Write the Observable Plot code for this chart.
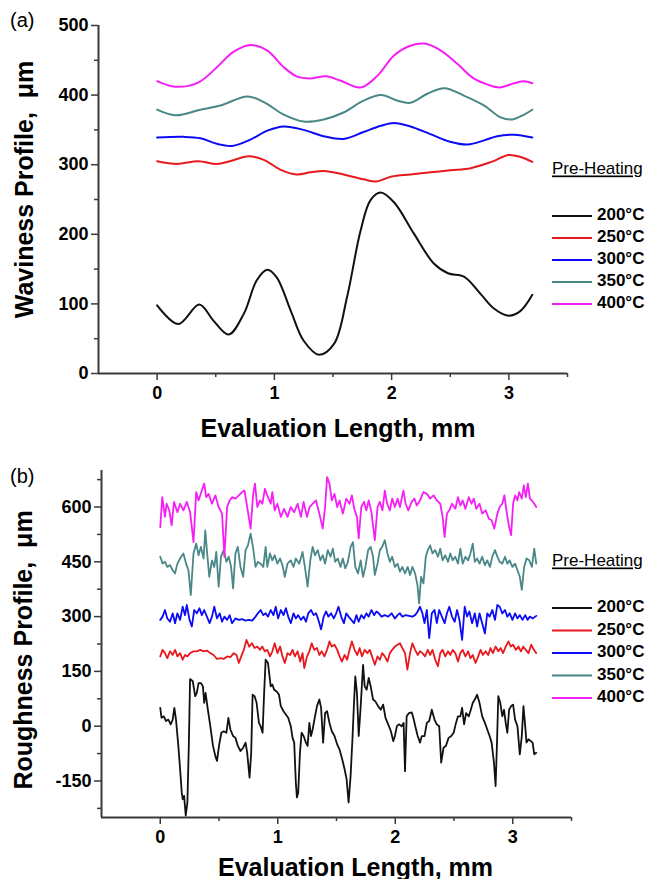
<!DOCTYPE html>
<html><head><meta charset="utf-8">
<script src="https://cdn.jsdelivr.net/npm/d3@7"></script>
<script src="https://cdn.jsdelivr.net/npm/@observablehq/plot@0.6"></script>
<style>
body{margin:0;background:#fff;}
#fig{position:relative;width:648px;height:879px;overflow:hidden;background:#fff;}
#fig svg{position:absolute;left:0;}
</style></head><body><div id="fig"></div>
<script>
// ---- categories / styling lists ----
const series = ["200°C", "250°C", "300°C", "350°C", "400°C"];
const colors = ["#111111", "#e8191c", "#0b0bf5", "#4a8787", "#f51ff5"];
const legendTitle = "Pre-Heating";
const xTitle = "Evaluation Length, mm";
const yTitleA = "Waviness Profile,  μm";
const yTitleB = "Roughness Profile,  μm";

// ---- tick values ----
const xMajor = [0, 1, 2, 3];
const xMinor = [0.5, 1.5, 2.5, 3.5];
const yMajorA = [0, 100, 200, 300, 400, 500];
const yMinorA = [50, 150, 250, 350, 450];
const yMajorB = [-150, 0, 150, 300, 450, 600];
const yMinorB = [-225, -75, 75, 225, 375, 525, 675];

// ---- (a) waviness profiles [mm, µm] ----
const wav200 = [[0,98],[0.18,71],[0.36,99],[0.48,76],[0.61,56],[0.74,86],[0.85,134],[0.94,149],[1.02,138],[1.14,90],[1.25,47],[1.38,27],[1.51,43],[1.62,110],[1.735,205],[1.82,249],[1.906,260],[2.02,246],[2.19,201],[2.36,158],[2.48,144],[2.62,139],[2.76,114],[2.875,93],[3.0,83],[3.10,90],[3.2,113]];
const wav250 = [[0,305],[0.17,301],[0.35,305],[0.51,301],[0.62,305],[0.78,312],[0.91,307],[1.05,293],[1.19,286],[1.31,289],[1.42,291],[1.59,286],[1.76,279],[1.87,276],[2.0,283],[2.16,286],[2.33,289],[2.5,292],[2.675,295],[2.85,304],[3.0,314],[3.10,311],[3.2,304]];
const wav300 = [[0,339],[0.225,340],[0.37,338],[0.51,330],[0.64,327],[0.795,336],[0.94,349],[1.08,355],[1.25,350],[1.42,341],[1.59,337],[1.76,347],[1.91,356],[2.02,360],[2.16,355],[2.33,344],[2.5,333],[2.65,329],[2.79,335],[2.9,341],[3.045,343],[3.2,339]];
const wav350 = [[0,379],[0.154,371],[0.37,379],[0.54,385],[0.77,398],[0.91,390],[1.08,372],[1.25,362],[1.42,365],[1.59,375],[1.76,392],[1.91,400],[2.05,392],[2.16,389],[2.305,402],[2.45,410],[2.62,399],[2.79,385],[2.93,368],[3.03,365],[3.13,372],[3.2,379]];
const wav400 = [[0,420],[0.154,412],[0.35,418],[0.51,440],[0.65,462],[0.795,472],[0.94,464],[1.08,440],[1.19,427],[1.31,424],[1.44,427],[1.56,421],[1.735,411],[1.88,428],[2.02,457],[2.16,471],[2.28,474],[2.42,464],[2.56,445],[2.70,424],[2.82,415],[2.92,411],[3.045,417],[3.13,420],[3.2,417]];

// ---- (b) roughness profiles [mm, µm] ----
const rough200 = [[0,50],[0.011,23],[0.031,27],[0.049,14],[0.069,18],[0.089,5],[0.106,18],[0.12,50],[0.134,18],[0.154,-54],[0.169,-118],[0.183,-182],[0.191,-200],[0.203,-191],[0.217,-245],[0.231,-209],[0.243,-54],[0.254,129],[0.277,123],[0.297,82],[0.311,91],[0.326,118],[0.346,118],[0.363,109],[0.374,64],[0.386,91],[0.403,50],[0.426,0],[0.449,-54],[0.469,-82],[0.483,-95],[0.5,-54],[0.52,-18],[0.54,-14],[0.563,-18],[0.58,23],[0.597,-9],[0.62,-27],[0.64,-32],[0.66,-54],[0.683,-68],[0.706,-59],[0.726,-45],[0.74,-73],[0.76,-141],[0.774,-73],[0.786,86],[0.803,82],[0.82,64],[0.84,9],[0.854,0],[0.871,-18],[0.883,82],[0.897,182],[0.917,173],[0.94,109],[0.954,114],[0.969,100],[0.991,95],[1.011,86],[1.026,55],[1.049,41],[1.069,32],[1.089,23],[1.111,0],[1.126,-32],[1.14,-45],[1.154,-155],[1.163,-195],[1.174,-182],[1.189,-73],[1.203,-18],[1.22,-27],[1.24,-45],[1.254,-54],[1.269,9],[1.283,-27],[1.297,-9],[1.317,27],[1.334,55],[1.354,73],[1.369,50],[1.386,-45],[1.403,36],[1.42,41],[1.44,9],[1.46,-14],[1.483,-27],[1.506,-50],[1.526,-64],[1.549,-91],[1.569,-118],[1.586,-145],[1.603,-209],[1.62,-136],[1.637,-27],[1.649,64],[1.66,136],[1.674,91],[1.689,-27],[1.706,55],[1.726,168],[1.74,109],[1.757,100],[1.774,132],[1.791,109],[1.811,73],[1.831,68],[1.854,55],[1.877,45],[1.897,59],[1.917,23],[1.94,5],[1.963,-14],[1.983,-41],[1.997,-27],[2.014,0],[2.031,5],[2.054,0],[2.071,9],[2.083,-123],[2.097,27],[2.117,36],[2.14,38],[2.154,23],[2.174,-5],[2.191,-27],[2.211,-45],[2.226,-27],[2.249,-27],[2.269,9],[2.289,14],[2.311,45],[2.334,18],[2.354,5],[2.374,0],[2.391,-100],[2.411,-59],[2.431,-54],[2.454,-32],[2.477,-27],[2.497,-18],[2.517,9],[2.534,27],[2.554,27],[2.569,50],[2.586,5],[2.603,36],[2.626,27],[2.643,45],[2.66,64],[2.677,73],[2.697,86],[2.717,64],[2.74,27],[2.763,9],[2.783,-9],[2.803,-27],[2.82,-45],[2.84,-100],[2.854,-164],[2.866,-45],[2.877,82],[2.894,64],[2.911,27],[2.926,45],[2.94,9],[2.954,-18],[2.969,45],[2.986,55],[3.003,59],[3.02,18],[3.04,0],[3.06,-77],[3.077,-27],[3.091,55],[3.106,0],[3.117,-45],[3.134,-36],[3.154,-41],[3.169,-45],[3.183,-77],[3.2,-73]];
const rough250 = [[0,191],[0.02,209],[0.04,200],[0.06,186],[0.083,205],[0.106,195],[0.126,209],[0.146,191],[0.169,200],[0.191,182],[0.211,195],[0.231,191],[0.254,200],[0.283,205],[0.311,205],[0.34,209],[0.369,205],[0.397,207],[0.426,200],[0.454,195],[0.483,184],[0.511,186],[0.54,184],[0.569,191],[0.597,189],[0.626,200],[0.649,195],[0.669,173],[0.689,191],[0.711,209],[0.734,236],[0.757,218],[0.78,227],[0.803,214],[0.826,218],[0.849,209],[0.869,218],[0.889,205],[0.911,209],[0.934,191],[0.954,205],[0.974,227],[0.997,200],[1.02,218],[1.04,191],[1.06,173],[1.083,200],[1.106,195],[1.126,209],[1.146,191],[1.169,205],[1.191,177],[1.211,200],[1.226,159],[1.249,191],[1.269,205],[1.289,227],[1.311,209],[1.334,214],[1.354,195],[1.374,205],[1.397,191],[1.42,209],[1.44,232],[1.46,218],[1.483,223],[1.506,209],[1.526,191],[1.546,177],[1.569,195],[1.591,182],[1.611,209],[1.631,232],[1.654,209],[1.677,195],[1.697,214],[1.717,191],[1.74,209],[1.763,200],[1.783,209],[1.803,191],[1.826,168],[1.849,191],[1.869,182],[1.889,200],[1.911,191],[1.934,177],[1.954,200],[1.974,209],[1.997,218],[2.02,223],[2.04,227],[2.06,214],[2.083,200],[2.103,155],[2.126,200],[2.146,227],[2.169,209],[2.191,195],[2.211,205],[2.231,200],[2.254,191],[2.277,209],[2.297,195],[2.317,209],[2.34,182],[2.363,164],[2.383,200],[2.403,209],[2.426,191],[2.449,205],[2.469,195],[2.489,209],[2.511,200],[2.534,177],[2.554,200],[2.574,209],[2.597,191],[2.62,205],[2.64,186],[2.66,195],[2.683,173],[2.706,191],[2.726,209],[2.746,195],[2.769,205],[2.791,195],[2.811,214],[2.831,200],[2.854,218],[2.877,205],[2.897,214],[2.917,200],[2.94,218],[2.963,232],[2.983,218],[3.003,223],[3.026,209],[3.049,218],[3.069,205],[3.089,218],[3.111,209],[3.134,200],[3.157,223],[3.18,209],[3.2,200]];
const rough300 = [[0,291],[0.02,300],[0.04,318],[0.06,295],[0.083,286],[0.106,309],[0.126,282],[0.146,309],[0.169,291],[0.191,327],[0.211,304],[0.226,332],[0.249,291],[0.269,273],[0.289,318],[0.311,309],[0.334,323],[0.354,304],[0.374,318],[0.397,300],[0.42,282],[0.44,300],[0.46,327],[0.483,295],[0.506,309],[0.526,286],[0.546,300],[0.569,291],[0.591,304],[0.611,282],[0.64,295],[0.669,291],[0.697,293],[0.726,289],[0.754,291],[0.783,289],[0.811,300],[0.831,309],[0.854,318],[0.877,304],[0.897,309],[0.917,300],[0.94,318],[0.963,304],[0.983,327],[1.003,295],[1.026,318],[1.049,304],[1.069,323],[1.089,300],[1.111,282],[1.134,309],[1.154,295],[1.174,304],[1.197,291],[1.22,300],[1.24,286],[1.26,309],[1.283,318],[1.306,304],[1.326,309],[1.346,291],[1.369,265],[1.391,300],[1.411,314],[1.431,300],[1.454,309],[1.477,295],[1.497,309],[1.517,327],[1.54,300],[1.563,282],[1.583,309],[1.603,300],[1.626,291],[1.649,282],[1.669,304],[1.689,286],[1.711,304],[1.734,295],[1.754,309],[1.774,300],[1.797,318],[1.82,304],[1.84,314],[1.86,309],[1.883,300],[1.911,304],[1.94,300],[1.969,309],[1.997,295],[2.02,304],[2.04,309],[2.06,300],[2.089,304],[2.117,302],[2.146,300],[2.169,304],[2.191,314],[2.211,327],[2.231,309],[2.249,282],[2.269,318],[2.289,241],[2.311,309],[2.334,318],[2.354,282],[2.374,318],[2.397,300],[2.42,282],[2.44,309],[2.46,327],[2.483,300],[2.506,286],[2.526,318],[2.546,291],[2.569,236],[2.591,327],[2.611,300],[2.631,314],[2.654,282],[2.677,309],[2.697,273],[2.717,309],[2.74,282],[2.763,254],[2.783,309],[2.803,300],[2.826,318],[2.849,291],[2.869,332],[2.889,327],[2.911,309],[2.934,318],[2.954,300],[2.974,309],[2.997,291],[3.02,309],[3.04,295],[3.06,304],[3.083,291],[3.106,304],[3.126,291],[3.146,300],[3.169,295],[3.2,302]];
const rough350 = [[0,464],[0.02,445],[0.04,450],[0.06,436],[0.083,441],[0.106,427],[0.126,418],[0.146,445],[0.169,459],[0.197,473],[0.22,445],[0.24,427],[0.26,359],[0.283,473],[0.306,500],[0.326,468],[0.346,491],[0.369,459],[0.383,536],[0.397,482],[0.417,409],[0.44,454],[0.46,436],[0.477,477],[0.497,382],[0.517,464],[0.54,482],[0.563,450],[0.583,464],[0.603,436],[0.62,377],[0.64,473],[0.66,491],[0.683,436],[0.706,409],[0.726,482],[0.746,495],[0.769,527],[0.789,491],[0.811,436],[0.831,450],[0.854,445],[0.877,436],[0.897,491],[0.911,436],[0.934,473],[0.954,454],[0.974,468],[0.997,445],[1.02,459],[1.04,441],[1.06,409],[1.083,445],[1.111,454],[1.134,436],[1.154,459],[1.183,445],[1.211,477],[1.231,436],[1.254,382],[1.277,454],[1.297,491],[1.317,468],[1.34,482],[1.363,454],[1.383,468],[1.403,445],[1.426,482],[1.449,464],[1.469,486],[1.489,450],[1.511,459],[1.534,436],[1.554,459],[1.574,432],[1.597,450],[1.62,491],[1.64,504],[1.66,436],[1.683,418],[1.706,454],[1.726,409],[1.746,436],[1.769,482],[1.791,491],[1.811,464],[1.826,414],[1.849,445],[1.869,482],[1.889,491],[1.911,509],[1.934,473],[1.954,450],[1.974,464],[1.997,436],[2.02,445],[2.04,423],[2.06,436],[2.083,418],[2.106,436],[2.126,414],[2.146,436],[2.169,418],[2.189,386],[2.203,336],[2.22,409],[2.24,391],[2.26,464],[2.277,482],[2.297,495],[2.317,473],[2.34,482],[2.363,464],[2.383,486],[2.403,454],[2.426,468],[2.449,450],[2.469,473],[2.489,454],[2.511,464],[2.534,445],[2.554,486],[2.574,445],[2.597,464],[2.62,454],[2.64,473],[2.66,500],[2.677,450],[2.697,459],[2.717,445],[2.74,464],[2.763,441],[2.783,454],[2.806,436],[2.826,464],[2.849,482],[2.869,464],[2.889,450],[2.911,445],[2.934,464],[2.954,445],[2.974,454],[2.997,436],[3.02,445],[3.04,427],[3.06,409],[3.077,373],[3.097,436],[3.117,459],[3.14,454],[3.163,436],[3.183,486],[3.2,445]];
const rough400 = [[0,545],[0.017,627],[0.04,573],[0.054,609],[0.077,591],[0.097,550],[0.117,614],[0.146,586],[0.169,609],[0.197,591],[0.226,614],[0.254,586],[0.283,504],[0.306,641],[0.326,618],[0.354,645],[0.374,664],[0.391,627],[0.411,636],[0.44,609],[0.469,632],[0.497,600],[0.526,582],[0.546,464],[0.569,600],[0.591,618],[0.611,627],[0.64,623],[0.669,632],[0.697,641],[0.717,645],[0.74,600],[0.769,541],[0.791,636],[0.806,664],[0.826,600],[0.849,618],[0.869,609],[0.891,650],[0.911,632],[0.94,609],[0.954,641],[0.974,591],[0.997,609],[1.026,573],[1.054,595],[1.083,573],[1.111,600],[1.14,586],[1.169,609],[1.197,573],[1.22,614],[1.249,573],[1.271,600],[1.297,609],[1.326,618],[1.354,582],[1.383,541],[1.403,600],[1.42,682],[1.44,664],[1.46,618],[1.483,636],[1.506,600],[1.526,618],[1.554,582],[1.583,623],[1.611,609],[1.631,632],[1.654,591],[1.674,573],[1.689,514],[1.711,600],[1.734,614],[1.754,591],[1.774,618],[1.797,586],[1.826,509],[1.849,600],[1.869,614],[1.891,591],[1.911,645],[1.931,609],[1.954,591],[1.974,623],[1.997,600],[2.02,623],[2.04,600],[2.069,645],[2.089,609],[2.111,591],[2.14,614],[2.163,623],[2.183,604],[2.211,618],[2.24,641],[2.269,636],[2.297,623],[2.326,632],[2.354,618],[2.383,609],[2.403,573],[2.42,518],[2.44,582],[2.46,591],[2.483,609],[2.511,595],[2.534,627],[2.554,604],[2.574,618],[2.597,595],[2.626,627],[2.649,609],[2.669,623],[2.689,595],[2.717,609],[2.74,582],[2.769,591],[2.797,568],[2.82,564],[2.843,541],[2.869,582],[2.889,600],[2.911,609],[2.929,632],[2.946,591],[2.969,545],[2.986,523],[3.003,609],[3.02,632],[3.04,618],[3.054,641],[3.077,623],[3.094,659],[3.111,627],[3.129,664],[3.146,623],[3.163,618],[3.183,609],[3.2,600]];

const wavData = [wav200, wav250, wav300, wav350, wav400];
const roughData = [rough200, rough250, rough300, rough350, rough400];

const toRows = (lists) => series.flatMap((s, i) => lists[i].map(([x, y]) => ({x, y, s})));

const axisColor = "#3a3a3a";
const fontFam = '"Liberation Sans", Arial, Helvetica, sans-serif';

function panel(o) {
  return Plot.plot({
    width: 648, height: o.height,
    marginTop: o.mt, marginBottom: o.mb, marginLeft: o.ml, marginRight: o.mr,
    x: {domain: [-0.5, 3.5], label: null},
    y: {domain: o.yDomain, label: null},
    color: {domain: series, range: colors},
    style: {fontFamily: fontFam, fontSize: "18px", fontWeight: "bold", color: "#000", background: "transparent", overflow: "visible"},
    marks: [
      Plot.axisY(o.yMinor, {tickSize: 4, tickFormat: () => "", label: null, stroke: axisColor, strokeWidth: 1.5}),
      Plot.axisY(o.yMajor, {tickSize: 7, tickPadding: 3, tickFormat: d => String(d), label: null, stroke: axisColor, strokeWidth: 1.5, fontSize: 18}),
      Plot.axisX(xMinor, {tickSize: 4, tickFormat: () => "", label: null, stroke: axisColor, strokeWidth: 1.5}),
      Plot.axisX(xMajor, {tickSize: 7, tickPadding: 6, tickFormat: d => String(d), label: null, stroke: axisColor, strokeWidth: 1.5, fontSize: 18}),
      Plot.ruleX([-0.5], {stroke: axisColor, strokeWidth: 2}),
      Plot.ruleY([o.yDomain[0]], {stroke: axisColor, strokeWidth: 2}),
      Plot.line(o.rows, {x: "x", y: "y", z: "s", stroke: "s", strokeWidth: o.sw, curve: o.curve}),
      Plot.text([xTitle], {text: d => d, frameAnchor: "bottom", textAnchor: "middle", lineAnchor: "middle", dx: o.xdx, dy: o.xdy, fontSize: 25}),
      Plot.text([o.ytitle], {text: d => d, frameAnchor: "left", textAnchor: "middle", lineAnchor: "middle", rotate: -90, dx: o.ydx, dy: o.ydy, fontSize: 25})
    ]
  });
}

const fig = document.getElementById("fig");

const plotA = panel({
  height: 450, mt: 25, mb: 77, ml: 98, mr: 81,
  yDomain: [0, 500], yMajor: yMajorA, yMinor: yMinorA,
  rows: toRows(wavData), curve: "catmull-rom", sw: 2,
  ytitle: yTitleA, xdx: 5, xdy: 55, ydx: -74, ydy: -10
});
plotA.style.top = "0px";
fig.appendChild(plotA);

const plotB = panel({
  height: 429, mt: 20, mb: 62, ml: 101, mr: 77,
  yDomain: [-250, 700], yMajor: yMajorB, yMinor: yMinorB,
  rows: toRows(roughData), curve: "linear", sw: 1.8,
  ytitle: yTitleB, xdx: 19, xdy: 50, ydx: -78, ydy: 6
});
plotB.style.top = "450px";
fig.appendChild(plotB);

// ---- overlay: panel tags and legends ----
const ov = d3.select(fig).append("svg")
  .attr("width", 648).attr("height", 879)
  .style("top", "0px").style("pointer-events", "none")
  .style("font-family", fontFam);

ov.append("text").attr("x", 10).attr("y", 22).attr("dominant-baseline", "middle")
  .attr("font-size", 20).text("(a)");
ov.append("text").attr("x", 10).attr("y", 478).attr("dominant-baseline", "middle")
  .attr("font-size", 20).text("(b)");

function legend(headY, y0, step) {
  ov.append("text").attr("x", 552).attr("y", headY).attr("dominant-baseline", "middle")
    .attr("font-size", 17).style("text-decoration", "underline").text(legendTitle);
  series.forEach((s, i) => {
    const y = y0 + i * step;
    ov.append("line").attr("x1", 552).attr("x2", 592).attr("y1", y).attr("y2", y)
      .attr("stroke", colors[i]).attr("stroke-width", 2);
    ov.append("text").attr("x", 597).attr("y", y).attr("dominant-baseline", "middle")
      .attr("font-size", 17).attr("font-weight", "bold").text(s);
  });
}
legend(170, 216, 22);
legend(562, 608, 22.5);
</script></body></html>
